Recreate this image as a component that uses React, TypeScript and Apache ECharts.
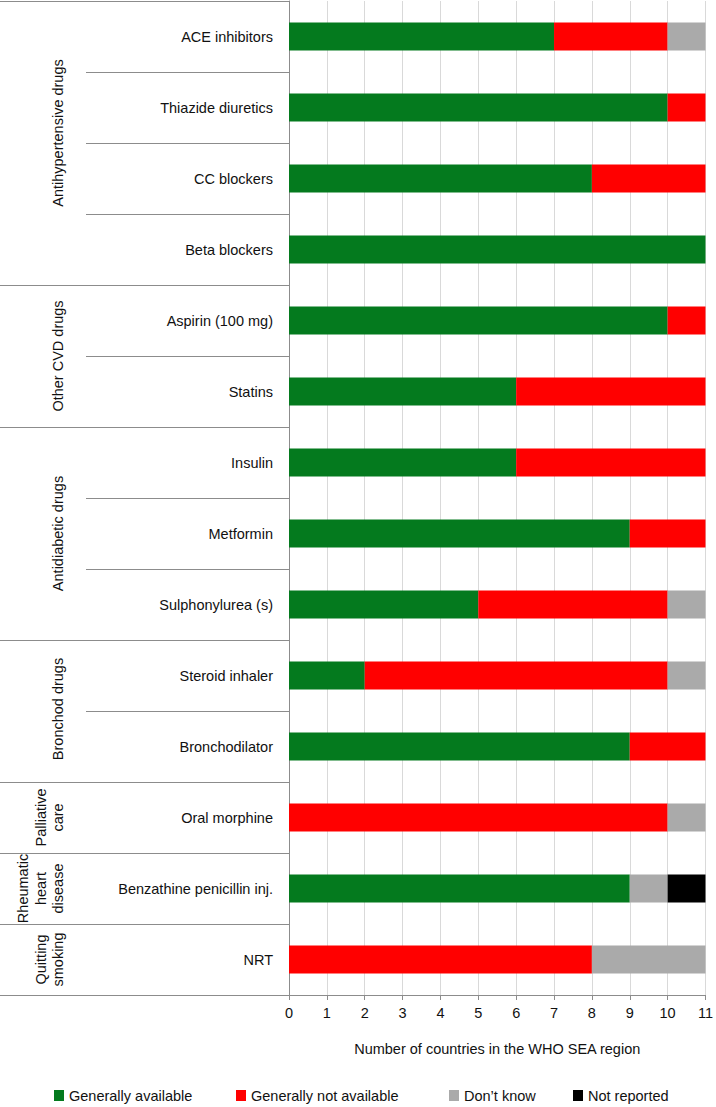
import React, { useEffect, useRef } from "react";
import * as echarts from "echarts";

const categories = [
  "ACE inhibitors",
  "Thiazide diuretics",
  "CC blockers",
  "Beta blockers",
  "Aspirin (100 mg)",
  "Statins",
  "Insulin",
  "Metformin",
  "Sulphonylurea (s)",
  "Steroid inhaler",
  "Bronchodilator",
  "Oral morphine",
  "Benzathine penicillin inj.",
  "NRT",
];
const available = [7, 10, 8, 11, 10, 6, 6, 9, 5, 2, 9, 0, 9, 0];
const notAvailable = [3, 1, 3, 0, 1, 5, 5, 2, 5, 8, 2, 10, 0, 8];
const dontKnow = [1, 0, 0, 0, 0, 0, 0, 0, 1, 1, 0, 1, 1, 3];
const notReported = [0, 0, 0, 0, 0, 0, 0, 0, 0, 0, 0, 0, 1, 0];
const xTicks = [0, 1, 2, 3, 4, 5, 6, 7, 8, 9, 10, 11];
const groups = [
  { name: "Antihypertensive drugs", start: 0, count: 4 },
  { name: "Other CVD drugs", start: 4, count: 2 },
  { name: "Antidiabetic drugs", start: 6, count: 3 },
  { name: "Bronchod drugs", start: 9, count: 2 },
  { name: "Palliative\ncare", start: 11, count: 1 },
  { name: "Rheumatic\nheart\ndisease", start: 12, count: 1 },
  { name: "Quitting\nsmoking", start: 13, count: 1 },
];
const groupLabelShift = [-10, 0, 0, -2, 0, 0, 0];
const seriesNames = ["Generally available", "Generally not available", "Don\u2019t know", "Not reported"];
const seriesColors = ["#047a1e", "#ff0000", "#aaaaaa", "#000000"];

const FONT = "'Liberation Sans', Arial, Helvetica, sans-serif";
const FS = 14.5;
const W = 716;
const H = 1107;
const GRID_LEFT = 289;
const GRID_RIGHT = 8;
const GRID_TOP = 1;
const GRID_BOTTOM = 112;

export default function App() {
  const ref = useRef<HTMLDivElement>(null);
  useEffect(() => {
    if (!ref.current) return;
    const chart = echarts.init(ref.current, undefined, { renderer: "svg" });
    const plotH = H - GRID_TOP - GRID_BOTTOM;
    const rowH = plotH / categories.length;
    const lineColor = "#8c8c8c";
    const graphics: any[] = [];
    graphics.push({
      type: "line",
      shape: { x1: 0, y1: GRID_TOP + 0.5, x2: GRID_LEFT, y2: GRID_TOP + 0.5 },
      style: { stroke: lineColor, lineWidth: 1 },
    });
    groups.forEach((g, gi) => {
      const yStart = GRID_TOP + g.start * rowH;
      const yEnd = yStart + g.count * rowH;
      graphics.push({
        type: "line",
        shape: { x1: 0, y1: Math.round(yEnd) + 0.5, x2: GRID_LEFT, y2: Math.round(yEnd) + 0.5 },
        style: { stroke: lineColor, lineWidth: 1 },
      });
      for (let i = 1; i < g.count; i++) {
        const y = Math.round(yStart + i * rowH) + 0.5;
        graphics.push({
          type: "line",
          shape: { x1: 86, y1: y, x2: GRID_LEFT, y2: y },
          style: { stroke: lineColor, lineWidth: 1 },
        });
      }
      graphics.push({
        type: "text",
        x: 67,
        y: (yStart + yEnd) / 2 + groupLabelShift[gi],
        rotation: Math.PI / 2,
        style: {
          text: g.name,
          fontSize: FS,
          fontFamily: FONT,
          fill: "#111",
          align: "center",
          verticalAlign: "bottom",
          lineHeight: 17.5,
        },
      });
    });

    const dataArrays = [available, notAvailable, dontKnow, notReported];
    const legendLefts = [54, 236, 449, 573];

    chart.setOption({
      animation: false,
      backgroundColor: "#fff",
      textStyle: { fontFamily: FONT },
      grid: { left: GRID_LEFT, right: GRID_RIGHT, top: GRID_TOP, bottom: GRID_BOTTOM, containLabel: false },
      legend: seriesNames.map((n, i) => ({
        data: [n],
        left: legendLefts[i],
        top: 1088,
        padding: 0,
        itemWidth: 10,
        itemHeight: 11,
        itemGap: 5,
        icon: "rect",
        textStyle: { fontSize: FS, fontFamily: FONT, color: "#111", padding: [0, 0, 0, 0] },
        selectedMode: false,
      })),
      xAxis: {
        type: "value",
        min: 0,
        max: 11,
        interval: 1,
        name: "Number of countries in the WHO SEA region",
        nameLocation: "middle",
        nameGap: 46,
        nameTextStyle: { fontSize: FS, fontFamily: FONT, color: "#111" },
        axisLine: { show: true, lineStyle: { color: lineColor } },
        axisTick: { show: true, length: 5, lineStyle: { color: lineColor } },
        axisLabel: {
          fontSize: FS,
          fontFamily: FONT,
          color: "#111",
          margin: 10,
          formatter: (v: number) => (xTicks.includes(v) ? String(v) : ""),
        },
        splitLine: { show: true, lineStyle: { color: "#d9d9d9" } },
      },
      yAxis: {
        type: "category",
        data: categories,
        inverse: true,
        axisLine: { show: true, lineStyle: { color: lineColor } },
        axisTick: { show: false },
        axisLabel: { fontSize: FS, fontFamily: FONT, color: "#111", margin: 16 },
      },
      series: seriesNames.map((n, i) => ({
        name: n,
        type: "bar",
        stack: "total",
        barWidth: 28,
        itemStyle: { color: seriesColors[i] },
        data: dataArrays[i],
      })),
      graphic: graphics,
    });
    return () => chart.dispose();
  }, []);
  return <div ref={ref} style={{ width: W, height: H, position: "absolute", left: 0, top: 0 }} />;
}
